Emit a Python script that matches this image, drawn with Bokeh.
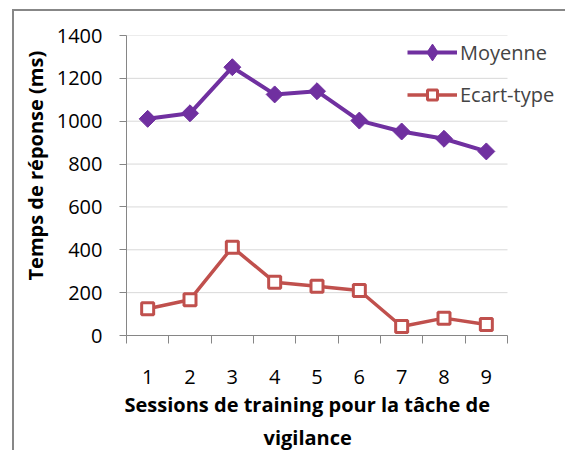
import math
from bokeh.plotting import figure
from bokeh.models import FixedTicker, Legend, LegendItem, Range1d, Title, LinearAxis
from bokeh.embed import file_html
from bokeh.resources import INLINE

sessions = [1, 2, 3, 4, 5, 6, 7, 8, 9]
moyenne = [1011, 1037, 1252, 1125, 1140, 1003, 952, 918, 859]
ecart_type = [125, 167, 412, 249, 230, 210, 42, 81, 51]
y_ticks = [0, 200, 400, 600, 800, 1000, 1200, 1400]
series_names = ["Moyenne", "Ecart-type"]
x_title_lines = ["Sessions de training pour la tâche de", "vigilance"]
y_title = "Temps de réponse (ms)"

FONT = "Open Sans"
PURPLE = "#7030A0"
RED = "#C0504D"
GRID = "#d9d9d9"
AXIS = "#868686"

# canvas offset on the page (border + margin via CSS)
OX, OY = 14, 11
W, H = 567 - OX, 452 - OY
FRAME_L, FRAME_T, FRAME_B, PLOT_R = 126, 35, 335, 507
x_lo, x_hi = sessions[0] - 0.5, sessions[-1] + 0.5
x_end = x_lo + (x_hi - x_lo) * (W + OX - FRAME_L) / (PLOT_R - FRAME_L)

p = figure(width=W, height=H, output_backend="svg", toolbar_location=None,
           x_range=Range1d(x_lo, x_end), y_range=Range1d(0, 1400),
           min_border_left=FRAME_L - OX, min_border_right=0,
           min_border_top=FRAME_T - OY, min_border_bottom=H + OY - FRAME_B)
p.styles = {"margin-left": "12px", "margin-top": "9px",
            "border-left": "2px solid #878787", "border-top": "2px solid #878787"}
p.outline_line_color = None
p.background_fill_color = "white"
p.border_fill_color = "white"

# x axis
p.xaxis.bounds = (x_lo, x_hi)
p.xaxis.ticker = FixedTicker(ticks=sessions, minor_ticks=[s - 0.5 for s in sessions] + [x_hi])
p.xaxis.major_tick_line_color = None
p.xaxis.major_tick_out = 0
p.xaxis.major_tick_in = 0
p.xaxis.minor_tick_line_color = AXIS
p.xaxis.minor_tick_out = 8
p.xaxis.minor_tick_in = 0
p.xaxis.axis_line_color = AXIS
p.xaxis.major_label_standoff = 26
p.xaxis.major_label_text_font = FONT
p.xaxis.major_label_text_font_size = "20px"
p.xaxis.major_label_text_color = "black"
p.xgrid.grid_line_color = None
p.ygrid.grid_line_color = None

# y axis
p.yaxis.ticker = FixedTicker(ticks=y_ticks)
p.yaxis.minor_tick_line_color = None
p.yaxis.major_tick_line_color = AXIS
p.yaxis.major_tick_out = 7
p.yaxis.major_tick_in = 0
p.yaxis.axis_line_color = AXIS
p.yaxis.major_label_standoff = 17
p.yaxis.major_label_text_font = FONT
p.yaxis.major_label_text_font_size = "20px"
p.yaxis.major_label_text_color = "black"

# empty spacer axis between the tick labels and the y title
spacer = LinearAxis(ticker=FixedTicker(ticks=[]), axis_line_color=None,
                    major_tick_line_color=None, minor_tick_line_color=None,
                    major_tick_out=3, major_tick_in=0, minor_tick_out=0, minor_tick_in=0,
                    major_label_standoff=0)
p.add_layout(spacer, "left")

# horizontal grid limited to the plot area
p.segment(x0=[x_lo] * len(y_ticks), x1=[x_hi] * len(y_ticks), y0=y_ticks, y1=y_ticks,
          line_color=GRID, line_width=1, level="underlay")

l1 = p.line(sessions, moyenne, line_color=PURPLE, line_width=4)
# diamond used as the legend symbol (hidden under the rotated squares)
m1_leg = p.scatter(sessions, moyenne, marker="diamond", size=15,
                   fill_color=PURPLE, line_color=PURPLE)
m1 = p.scatter(sessions, moyenne, marker="square", angle=math.pi / 4, size=12,
               fill_color=PURPLE, line_color=PURPLE)
l2 = p.line(sessions, ecart_type, line_color=RED, line_width=3.5)
m2 = p.scatter(sessions, ecart_type, marker="square", size=12, fill_color="white",
               line_color=RED, line_width=3)


def make_legend(label, renderers, glyph_h, loc):
    lg = Legend(items=[LegendItem(label=label, renderers=renderers)], location=loc)
    lg.border_line_color = None
    lg.background_fill_alpha = 0
    lg.padding = 0
    lg.margin = 0
    lg.glyph_width = 50
    lg.glyph_height = glyph_h
    lg.label_height = 20
    lg.label_standoff = 3
    lg.label_text_font = FONT
    lg.label_text_font_size = "20px"
    lg.label_text_baseline = "middle"
    return lg


p.add_layout(make_legend(series_names[0], [l1, m1_leg], 42, (281, 262)))
p.add_layout(make_legend(series_names[1], [l2, m2], 25, (281, 227)))

x_title_offsets = [-2, 137]
for txt, off in zip(x_title_lines, x_title_offsets):
    p.add_layout(Title(text=txt, align="left", offset=off,
                       text_font=FONT, text_font_style="bold", text_font_size="20px",
                       text_color="black", standoff=4), "below")

p.add_layout(Title(text=y_title, align="left", offset=55,
                   text_font=FONT, text_font_style="bold", text_font_size="20px",
                   text_color="black", standoff=10), "left")

open("out.html", "w").write(file_html(p, INLINE))
